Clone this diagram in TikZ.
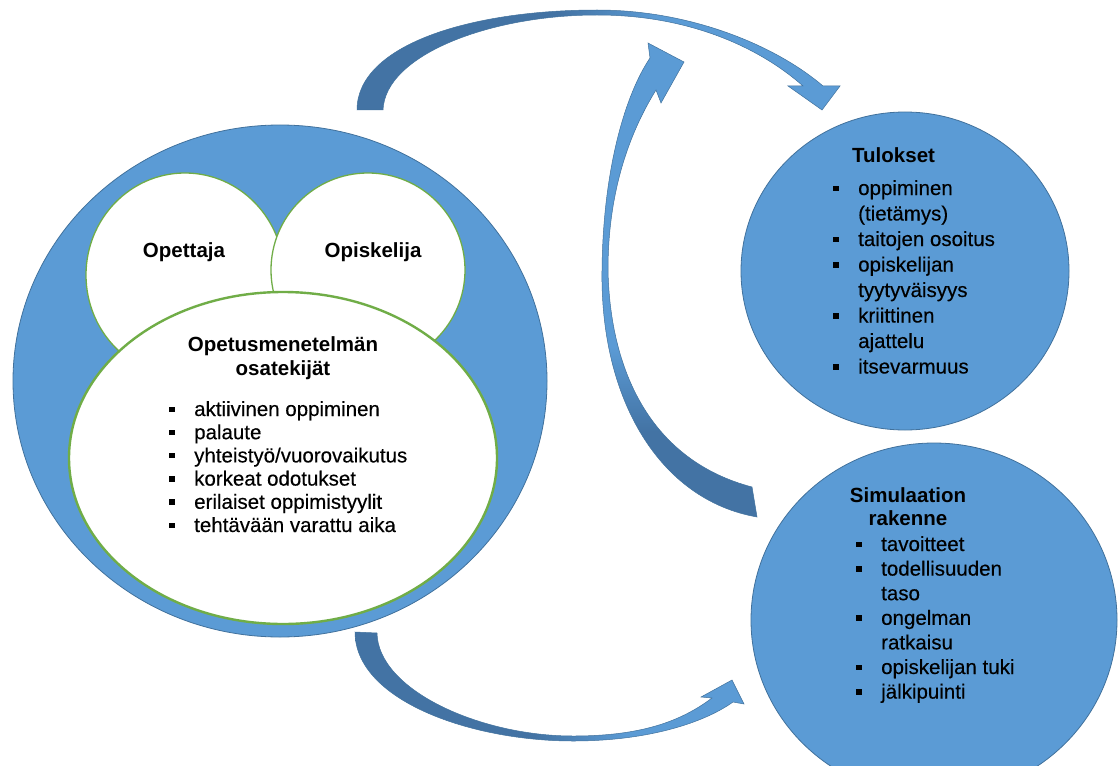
\documentclass[tikz,border=0pt]{standalone}
\usepackage{fontspec}
\setmainfont{Liberation Sans}
\newfontfamily\listfont[FakeBold=0.3]{Liberation Sans}
\usetikzlibrary{shapes.geometric}

\definecolor{fillblue}{HTML}{5B9BD5}
\definecolor{edgeblue}{HTML}{41719C}
\definecolor{darkarrow}{HTML}{4373A4}
\definecolor{ringgreen}{HTML}{70AD47}

% colour sweeps along the three curved block arrows (dark tail, light head)
\pgfdeclarehorizontalshading{topsweep}{100bp}{color(0bp)=(darkarrow); color(46bp)=(darkarrow); color(56bp)=(fillblue); color(100bp)=(fillblue)}
\pgfdeclarehorizontalshading{lowsweep}{100bp}{color(0bp)=(darkarrow); color(48bp)=(darkarrow); color(60bp)=(fillblue); color(100bp)=(fillblue)}
\pgfdeclareverticalshading{risesweep}{100bp}{color(0bp)=(darkarrow); color(34bp)=(darkarrow); color(43bp)=(fillblue); color(100bp)=(fillblue)}

% square list bullet and the matching hanging indent
\newcommand\blt{\makebox[25pt][l]{\rule[4pt]{5.5pt}{5.5pt}}}
\newcommand\bltind{\hspace*{25pt}}

\begin{document}
\begin{tikzpicture}[x=1pt,y=-1pt,
  blob/.style={ellipse, fill=fillblue, draw=edgeblue, line width=0.8pt, inner sep=0},
  cell/.style={ellipse, fill=white, draw=ringgreen, line width=1.3pt, inner sep=0},
  hub/.style={ellipse, fill=white, draw=ringgreen, line width=2.4pt, inner sep=0},
  head/.style={font=\bfseries\fontsize{20.5}{24}\selectfont, inner sep=0},
  txt/.style={inner sep=0, anchor=base west},
  band/.style={draw=edgeblue, line width=0.5pt}]

\path[use as bounding box] (0,0) rectangle (1118,765);
\begin{scope}
\clip (0,0) rectangle (1118,765);

% curved block arrow: left cluster -> results (over the top)
\shadedraw[shading=topsweep, band]
  (357,110) .. controls (357,45) and (470,10) .. (597,10)
  .. controls (690,10) and (775,45) .. (823,86)
  -- (840,86) -- (822,110) -- (788,86) -- (803,86)
  .. controls (760,48) and (690,15) .. (597,15)
  .. controls (490,15) and (385,55) .. (383,110) -- cycle;

% curved block arrow: simulation structure -> results
\shadedraw[shading=risesweep, band]
  (757,517) .. controls (660,500) and (600,400) .. (602,270)
  .. controls (603,170) and (625,95) .. (650,58)
  -- (648,43) -- (684,62) -- (661,103) -- (656,90)
  .. controls (625,140) and (608,200) .. (608,270)
  .. controls (610,370) and (650,460) .. (752,487) -- cycle;

% curved block arrow: left cluster -> simulation structure (underneath)
\shadedraw[shading=lowsweep, band]
  (355,632) .. controls (355,700) and (470,741) .. (573,741)
  .. controls (650,741) and (705,722) .. (733,702)
  -- (744,704) -- (732,680) -- (701,697) -- (712,698)
  .. controls (680,722) and (640,736) .. (573,736)
  .. controls (480,736) and (378,690) .. (377,633) -- cycle;

% left cluster
\node[blob, minimum width=534, minimum height=512] (core) at (280,381) {};
\node[cell, minimum width=198, minimum height=204] (teacher) at (185,275) {};
\node[cell, minimum width=194, minimum height=194] (student) at (368,270) {};
\node[hub, minimum width=428, minimum height=332] (method) at (283,458) {};

\node[head, anchor=base] (teacherlbl) at (184,257) {Opettaja};
\node[head, anchor=base] (studentlbl) at (373,257) {Opiskelija};
\node[head, anchor=base] (methodlbl) at (283,351)
  {\parbox[t]{260pt}{\centering Opetusmenetelmän\\ osatekijät}};
\node[txt] (methodlist) at (169,416)
  {\parbox[t]{260pt}{\raggedright\listfont\fontsize{20.5}{23.2}\selectfont
   \blt aktiivinen oppiminen\\
   \blt palaute\\
   \blt yhteistyö/vuorovaikutus\\
   \blt korkeat odotukset\\
   \blt erilaiset oppimistyylit\\
   \blt tehtävään varattu aika}};

% results
\node[blob, minimum width=328, minimum height=318] (results) at (905,271) {};
\node[head, txt] (resultslbl) at (852,162) {Tulokset};
\node[txt] (resultslist) at (833,195)
  {\parbox[t]{220pt}{\raggedright\listfont\fontsize{20.5}{25.5}\selectfont
   \blt oppiminen\\
   \bltind (tietämys)\\
   \blt taitojen osoitus\\
   \blt opiskelijan\\
   \bltind tyytyväisyys\\
   \blt kriittinen\\
   \bltind ajattelu\\
   \blt itsevarmuus}};

% simulation structure
\node[blob, minimum width=366, minimum height=354] (simul) at (934,620) {};
\node[head, anchor=base] (simullbl) at (908,502)
  {\parbox[t]{200pt}{\centering\fontsize{20.5}{23}\selectfont Simulaation\\ rakenne}};
\node[txt] (simullist) at (856,551)
  {\parbox[t]{220pt}{\raggedright\listfont\fontsize{20.5}{24.6}\selectfont
   \blt tavoitteet\\
   \blt todellisuuden\\
   \bltind taso\\
   \blt ongelman\\
   \bltind ratkaisu\\
   \blt opiskelijan tuki\\
   \blt jälkipuinti}};
\end{scope}
\end{tikzpicture}
\end{document}
